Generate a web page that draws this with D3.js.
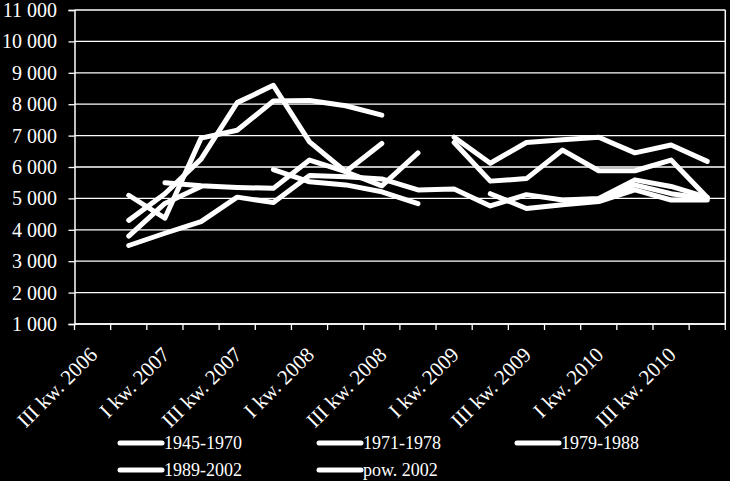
<!DOCTYPE html>
<html>
<head>
<meta charset="utf-8">
<script src="https://cdn.jsdelivr.net/npm/d3@7"></script>
<style>
  html, body { margin: 0; padding: 0; background: #000; }
  svg { display: block; }
  text { font-family: "Liberation Serif", "Times New Roman", serif; fill: #fff; }
</style>
</head>
<body>
<svg id="chart" width="730" height="481"></svg>
<script>
// ---- data ----
const categories = [
  "III kw. 2006", "IV kw. 2006",
  "I kw. 2007", "II kw. 2007", "III kw. 2007", "IV kw. 2007",
  "I kw. 2008", "II kw. 2008", "III kw. 2008", "IV kw. 2008",
  "I kw. 2009", "II kw. 2009", "III kw. 2009", "IV kw. 2009",
  "I kw. 2010", "II kw. 2010", "III kw. 2010", "IV kw. 2010"
];
const seriesNames = ["1945-1970", "1971-1978", "1979-1988", "1989-2002", "pow. 2002"];
const s1945 = [null, 5100, 4370, 6920, 7170, 8100, 8120, 7950, 7650, null, 6950, 6120, 6780, 6870, 6950, 6450, 6700, 6180];
const s1971 = [null, 4300, 5150, 6250, 8050, 8600, 6800, 5850, 6750, null, 6780, 5550, 5630, 6540, 5880, 5880, 6220, 5030];
const s1979 = [null, 3800, 4840, 5380, null, 5920, 5530, 5430, 5210, 4830, null, 5150, 4680, 4800, 4900, 5270, 4950, 4950];
const s1989 = [null, 3500, 3890, 4260, 5040, 4870, 5730, 5690, 5620, 5270, 5300, 4760, 5120, 4950, 5000, 5590, 5380, 5030];
const sPow  = [null, null, 5500, 5400, 5350, 5320, 6220, 5850, 5400, 6450, null, null, null, null, 4950, 5430, 5150, 4990];
const seriesValues = [s1945, s1971, s1979, s1989, sPow];
const yTicks = [1000, 2000, 3000, 4000, 5000, 6000, 7000, 8000, 9000, 10000, 11000];

// ---- layout ----
const svg = d3.select("#chart");
const pLeft = 74.5, pRight = 725.3, pTop = 10, pBottom = 324;

const x = d3.scaleBand().domain(categories).range([pLeft, pRight]).padding(0);
const y = d3.scaleLinear().domain([1000, 11000]).range([pBottom, pTop]);
const fmt = v => d3.format(",")(v).replace(/,/g, " ");

// gridlines
svg.append("g").selectAll("line").data(yTicks).join("line")
  .attr("x1", pLeft).attr("x2", pRight)
  .attr("y1", d => y(d)).attr("y2", d => y(d))
  .attr("stroke", "#fff").attr("stroke-width", 1.3);

// right border
svg.append("line").attr("x1", pRight).attr("x2", pRight).attr("y1", pTop).attr("y2", pBottom)
  .attr("stroke", "#fff").attr("stroke-width", 1.5);

// y axis
const yAxis = d3.axisLeft(y).tickValues(yTicks).tickFormat(fmt).tickSize(6).tickPadding(11.5);
const gy = svg.append("g").attr("transform", `translate(${pLeft},0)`).call(yAxis);
gy.select(".domain").attr("stroke", "#fff").attr("stroke-width", 1.5);
gy.selectAll(".tick line").attr("stroke", "#fff").attr("stroke-width", 1.3);
gy.selectAll(".tick text").attr("fill", "#fff")
  .style("font-family", '"Liberation Serif", serif').style("font-size", "20px");

// x axis line
svg.append("line").attr("x1", pLeft).attr("x2", pRight).attr("y1", pBottom).attr("y2", pBottom)
  .attr("stroke", "#fff").attr("stroke-width", 1.5);
// x ticks at band boundaries
const boundaries = categories.map(c => x(c)).concat([pRight]);
svg.append("g").selectAll("line").data(boundaries).join("line")
  .attr("x1", d => d).attr("x2", d => d)
  .attr("y1", pBottom).attr("y2", pBottom + 6)
  .attr("stroke", "#fff").attr("stroke-width", 1.3);

// x labels (every other)
const cx = c => x(c) + x.bandwidth() / 2;
svg.append("g").selectAll("text").data(categories.filter((c, i) => i % 2 === 0)).join("text")
  .attr("transform", c => `translate(${cx(c) + 6},${pBottom + 32}) rotate(-45)`)
  .attr("text-anchor", "end")
  .style("font-size", "21px")
  .text(c => c);

// lines
const line = d3.line()
  .defined(d => d.v != null)
  .x(d => cx(d.c))
  .y(d => y(d.v));

seriesValues.forEach((vals) => {
  const pts = categories.map((c, i) => ({ c, v: vals[i] }));
  svg.append("path")
    .attr("d", line(pts))
    .attr("fill", "none")
    .attr("stroke", "#fff")
    .attr("stroke-width", 5)
    .attr("stroke-linecap", "round")
    .attr("stroke-linejoin", "round");
});

// legend
const legendPos = [
  { x: 118, y: 443 }, { x: 317, y: 443 }, { x: 515, y: 443 },
  { x: 118, y: 470 }, { x: 317, y: 470 }
];
const lg = svg.append("g").selectAll("g").data(seriesNames).join("g")
  .attr("transform", (d, i) => `translate(${legendPos[i].x},${legendPos[i].y})`);
lg.append("line").attr("x1", 2).attr("x2", 44).attr("y1", 0).attr("y2", 0)
  .attr("stroke", "#fff").attr("stroke-width", 5).attr("stroke-linecap", "round");
lg.append("text").attr("x", 46).attr("y", 0).attr("dy", "0.36em")
  .style("font-size", "18px").text(d => d);
</script>
</body>
</html>
